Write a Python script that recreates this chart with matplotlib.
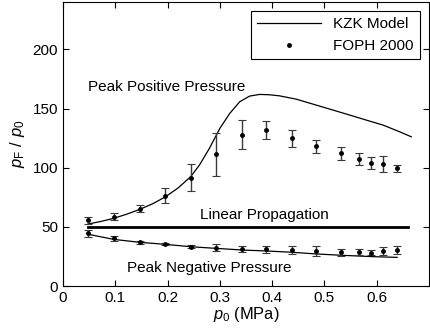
import numpy as np
import matplotlib.pyplot as plt
from matplotlib.lines import Line2D

plt.rcParams['font.family'] = ['Liberation Sans', 'DejaVu Sans']
plt.rcParams['mathtext.fontset'] = 'custom'
plt.rcParams['mathtext.it'] = 'Liberation Sans:italic'
plt.rcParams['mathtext.rm'] = 'Liberation Sans'

# measured data (FOPH 2000)
p0_meas = [0.048, 0.097, 0.147, 0.196, 0.244, 0.293, 0.343, 0.389, 0.438,
           0.484, 0.531, 0.567, 0.590, 0.612, 0.639]
pos_meas = [55.7, 58.5, 65.3, 76.3, 91.5, 111.2, 128.0, 131.8, 124.7,
            118.2, 112.0, 107.3, 104.2, 103.0, 99.4]
pos_err = [3.0, 3.0, 3.0, 6.5, 11.5, 18.0, 12.0, 7.5, 7.0,
           5.6, 5.4, 5.0, 5.0, 6.6, 3.0]
neg_meas = [44.5, 40.3, 36.9, 35.5, 33.2, 32.4, 31.2, 31.2, 30.4,
            29.6, 28.5, 28.5, 28.2, 29.6, 30.4]
neg_err = [3.0, 2.0, 1.5, 1.0, 1.5, 3.0, 2.5, 3.0, 3.0,
           4.0, 3.0, 2.5, 2.0, 3.5, 3.0]

# KZK model curves
p0_pos = [0.048, 0.073, 0.097, 0.122, 0.147, 0.172, 0.196, 0.220, 0.244,
          0.261, 0.280, 0.300, 0.319, 0.338, 0.357, 0.376, 0.395, 0.414,
          0.446, 0.491, 0.542, 0.586, 0.612, 0.644, 0.666]
kzk_pos = [52.4, 54.6, 57.2, 60.7, 64.8, 69.6, 75.4, 82.8, 92.3,
           102.2, 116.3, 133.2, 145.9, 155.7, 160.5, 161.9, 161.6, 160.7,
           157.9, 152.0, 145.3, 139.4, 136.0, 130.3, 126.1]
p0_neg = [0.048, 0.097, 0.147, 0.196, 0.244, 0.293, 0.343, 0.389, 0.438,
          0.484, 0.531, 0.593, 0.639]
kzk_neg = [43.7, 39.4, 36.9, 35.2, 33.2, 31.8, 30.4, 29.6, 28.5,
           27.1, 26.0, 24.8, 24.2]

# linear propagation
p0_lin = [0.048, 0.66]
lin = [50, 50]

fs = 11

fig = plt.figure(figsize=(4.3, 3.32), dpi=100)
ax = fig.add_axes([63 / 430, 46 / 332, 366 / 430, 284 / 332])

ax.plot(p0_pos, kzk_pos, '-k', lw=0.9)
ax.plot(p0_neg, kzk_neg, '-k', lw=0.9)
ax.plot(p0_lin, lin, '-k', lw=2)
ax.errorbar(p0_meas, pos_meas, yerr=pos_err, fmt='.k', ms=5, ecolor='#3a3a3a',
            elinewidth=1, capsize=3, capthick=0.8)
ax.errorbar(p0_meas, neg_meas, yerr=neg_err, fmt='.k', ms=5, ecolor='#3a3a3a',
            elinewidth=1, capsize=3, capthick=0.8)

ax.text(0.048, 165, 'Peak Positive Pressure', fontsize=fs)
ax.text(0.262, 56.5, 'Linear Propagation', fontsize=fs)
ax.text(0.122, 12, 'Peak Negative Pressure', fontsize=fs)

ax.set_xlim(0, 0.7)
ax.set_ylim(0, 240)
ax.set_xticks([0, 0.1, 0.2, 0.3, 0.4, 0.5, 0.6])
ax.set_xticklabels(['0', '0.1', '0.2', '0.3', '0.4', '0.5', '0.6'])
ax.set_yticks([0, 50, 100, 150, 200])
ax.tick_params(direction='in', top=True, right=True, labelsize=fs, length=4)
ax.set_xlabel(r'$p_0$ (MPa)', fontsize=11.8, labelpad=0)
ax.set_ylabel(r'$p_{\rm F}$ / $p_0$', fontsize=12, labelpad=4)

handles = [Line2D([], [], color='k', lw=0.9),
           Line2D([], [], color='k', ls='none', marker='.', ms=5)]
leg = ax.legend(handles, ['KZK Model', 'FOPH 2000'], loc='upper right',
                fontsize=fs, frameon=True, fancybox=False, edgecolor='k',
                framealpha=1, handlelength=4.2, borderaxespad=0.6)
leg.get_frame().set_linewidth(0.8)

fig.savefig('out.png', dpi=100)
